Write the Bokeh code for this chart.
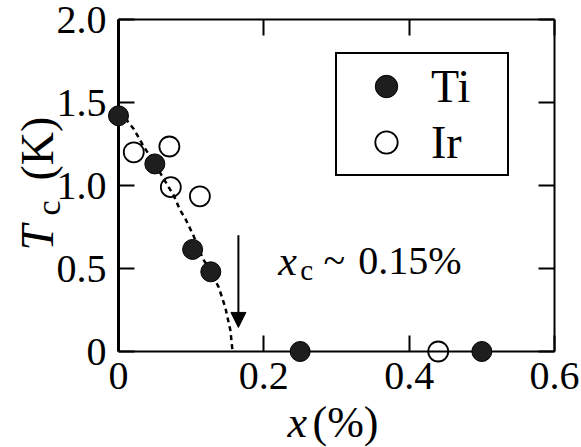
from math import pi
from bokeh.plotting import figure
from bokeh.models import (LinearAxis, FixedTicker, Arrow, NormalHead,
                          Legend, LegendItem, Range1d)
from bokeh.core.properties import value
from bokeh.embed import file_html
from bokeh.resources import INLINE

# ---- data ----
ti_x = [0.0, 0.050, 0.102, 0.127, 0.25, 0.50]
ti_y = [1.42, 1.13, 0.615, 0.48, 0.0, 0.0]
ir_x = [0.021, 0.070, 0.072, 0.112, 0.44]
ir_y = [1.20, 1.235, 0.99, 0.935, 0.0]
curve_x = [0.0, 0.012, 0.021, 0.034, 0.050, 0.065, 0.076, 0.085, 0.092,
           0.103, 0.116, 0.127, 0.138, 0.147, 0.154, 0.157]
curve_y = [1.44, 1.39, 1.34, 1.24, 1.13, 1.02, 0.94, 0.85, 0.80,
           0.70, 0.56, 0.48, 0.386, 0.265, 0.127, 0.0]
x_ticks = [0, 0.2, 0.4, 0.6]
x_tick_labels = ["0", "0.2", "0.4", "0.6"]
y_ticks = [0, 0.5, 1.0, 1.5, 2.0]
y_tick_labels = ["0", "0.5", "1.0", "1.5", "2.0"]
series_names = ["Ti", "Ir"]
arrow_x = 0.165
arrow_y = [0.70, 0.145]

FONT = "Liberation Serif"

p = figure(width=581, height=447, x_range=Range1d(0, 0.6), y_range=Range1d(0, 2.0),
           output_backend="svg", toolbar_location=None,
           min_border_left=118, min_border_right=27, min_border_top=19,
           min_border_bottom=96)
p.outline_line_color = None
p.grid.visible = False
p.background_fill_color = "white"
p.border_fill_color = "white"


def style_axis(ax, ticks, labels, show, standoff=8):
    ax.ticker = FixedTicker(ticks=ticks)
    ax.axis_line_width = 2
    ax.axis_line_color = "black"
    ax.major_tick_in = 16
    ax.major_tick_out = 0
    ax.major_tick_line_width = 2
    ax.major_tick_line_color = "black"
    ax.minor_tick_line_color = None
    ax.major_label_text_font = FONT
    ax.major_label_text_color = "black"
    ax.major_label_standoff = standoff
    if show:
        ax.major_label_text_font_size = "40px"
        ax.major_label_overrides = dict(zip(ticks, labels))
    else:
        ax.major_label_text_font_size = "1px"
        ax.major_label_overrides = {t: "" for t in ticks}


style_axis(p.xaxis[0], x_ticks, x_tick_labels, True, standoff=11)
style_axis(p.yaxis[0], y_ticks, y_tick_labels, True, standoff=12)
top = LinearAxis()
right = LinearAxis()
style_axis(top, x_ticks, x_tick_labels, False, standoff=0)
style_axis(right, y_ticks, y_tick_labels, False, standoff=0)
p.add_layout(top, "above")
p.add_layout(right, "right")
p.yaxis[0].axis_line_width = 3

# dashed guide curve
p.line(curve_x, curve_y, line_dash="5 4", line_width=2.5, line_color="black")

# arrow
p.add_layout(Arrow(end=NormalHead(size=15, fill_color="black", line_color="black", line_width=1),
                   x_start=arrow_x, y_start=arrow_y[0], x_end=arrow_x, y_end=arrow_y[1],
                   line_width=2, line_color="black"))

r_ti = p.scatter(ti_x, ti_y, marker="circle", size=20, fill_color="#1e1e1e",
                 line_color="black", line_width=1, level="overlay")
r_ir = p.scatter(ir_x, ir_y, marker="circle", size=20, fill_color=None,
                 line_color="black", line_width=1.8, level="overlay")

legend = Legend(items=[LegendItem(label=series_names[0], renderers=[r_ti]),
                       LegendItem(label=series_names[1], renderers=[r_ir])],
                location=(217, 175), padding=4, spacing=0, margin=0,
                glyph_width=90, glyph_height=56, label_standoff=0, label_width=72,
                label_text_font=FONT, label_text_font_size="46px",
                label_text_color="black",
                border_line_color="black", border_line_width=2, border_line_alpha=1.0,
                background_fill_color="white", background_fill_alpha=1.0)
p.add_layout(legend)


def txt(x, y, text, size, style="normal", angle=0.0):
    p.text(x=[x], y=[y], text=[text], text_font=value(FONT), text_font_size=f"{size}px",
           text_font_style=style, angle=angle, text_align="left",
           text_baseline="alphabetic", text_color="black", level="overlay")


# annotation x_c ~ 0.15%
txt(0.220, 0.548, "x", 42, "italic")
txt(0.250, 0.488, "c", 29)
txt(0.282, 0.548, "~", 40)
txt(0.330, 0.548, "0.15%", 40)

# x-axis title
txt(0.2326, -0.428, "x", 44, "italic")
txt(0.267, -0.428, "(%)", 44)

# y-axis title (rotated)
txt(-0.1115, 0.608, "T", 46, "italic", pi / 2)
txt(-0.097, 0.819, "c", 34, "normal", pi / 2)
txt(-0.1115, 1.03, "(K)", 46, "normal", pi / 2)

open("out.html", "w").write(file_html(p, INLINE))
